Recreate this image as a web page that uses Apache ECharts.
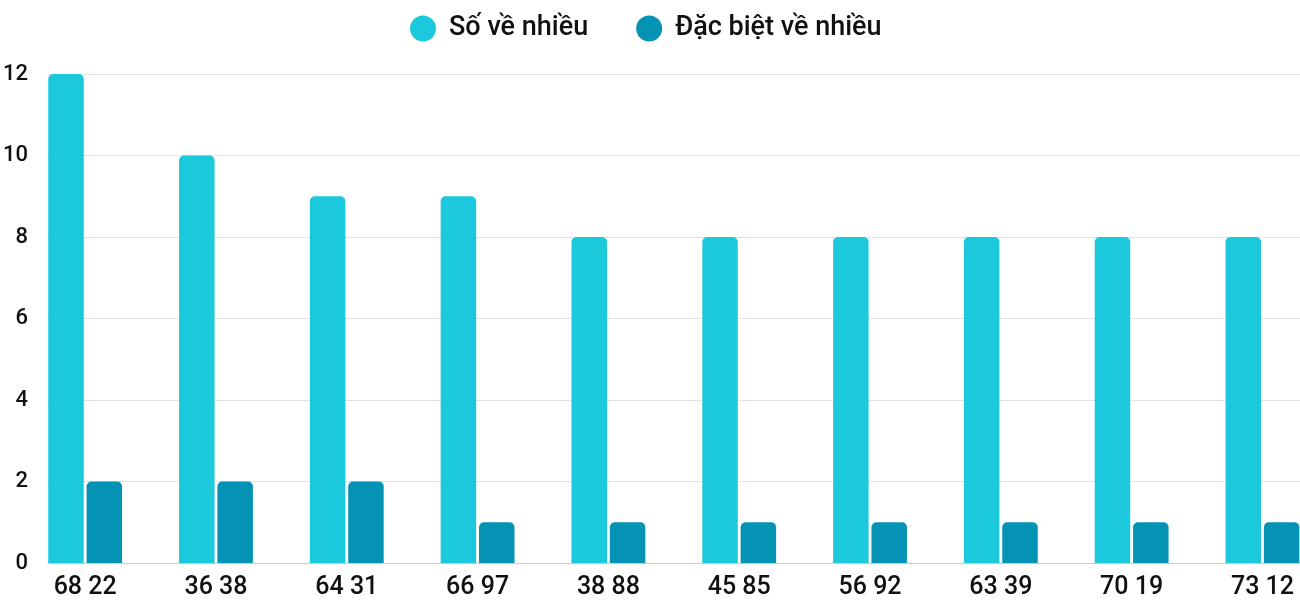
<!DOCTYPE html>
<html lang="vi">
<head>
    <meta charset="UTF-8">
    <title>Số về nhiều</title>
    <script src="https://cdn.jsdelivr.net/npm/echarts/dist/echarts.min.js"></script>
    <style>
        html, body { margin: 0; padding: 0; background: #fff; }
        #main { width: 1300px; height: 600px; }
    </style>
</head>
<body>
    <div id="main"></div>
    <script>
        // dữ liệu
        var categories = ['68 22', '36 38', '64 31', '66 97', '38 88', '45 85', '56 92', '63 39', '70 19', '73 12'];
        var soVeNhieu = [12, 10, 9, 9, 8, 8, 8, 8, 8, 8];
        var dacBietVeNhieu = [2, 2, 2, 1, 1, 1, 1, 1, 1, 1];

        var myChart = echarts.init(document.getElementById('main'));
        var positions = categories.map(function (c, i) { return i; });

        var option = {
            animation: false,
            textStyle: { fontFamily: 'Roboto', fontWeight: 500 },
            legend: {
                top: 10,
                left: 405,
                icon: 'circle',
                itemWidth: 26,
                itemHeight: 26,
                itemGap: 48,
                textStyle: { fontSize: 27, fontWeight: 500, color: '#111', padding: [0, 0, 0, 8] },
                data: ['Số về nhiều', 'Đặc biệt về nhiều']
            },
            grid: { left: 48, right: 0, top: 74, bottom: 36, containLabel: false },
            xAxis: {
                type: 'value',
                min: -0.284,
                max: 9.287,
                splitLine: { show: false },
                axisLine: { show: true, lineStyle: { color: '#ccc' } },
                axisTick: { show: false, customValues: positions },
                axisLabel: {
                    customValues: positions,
                    margin: 12,
                    fontSize: 25,
                    fontWeight: 500,
                    color: '#111',
                    formatter: function (v) { return categories[Math.round(v)]; }
                }
            },
            yAxis: {
                type: 'value',
                min: 0,
                max: 12,
                interval: 2,
                axisLine: { show: false },
                axisTick: { show: false },
                axisLabel: { fontSize: 22, fontWeight: 500, color: '#111', margin: 20 },
                splitLine: { lineStyle: { color: '#e2e2e2' } }
            },
            series: [
                {
                    name: 'Số về nhiều',
                    type: 'bar',
                    barWidth: 35.5,
                    barGap: '8%',
                    itemStyle: { color: '#1bc8dc', borderRadius: [5, 5, 0, 0] },
                    data: soVeNhieu.map(function (v, i) { return [i, v]; })
                },
                {
                    name: 'Đặc biệt về nhiều',
                    type: 'bar',
                    barWidth: 35.5,
                    barGap: '8%',
                    itemStyle: { color: '#0493b5', borderRadius: [5, 5, 0, 0] },
                    data: dacBietVeNhieu.map(function (v, i) { return [i, v]; })
                }
            ]
        };

        myChart.setOption(option);
    </script>
</body>
</html>
